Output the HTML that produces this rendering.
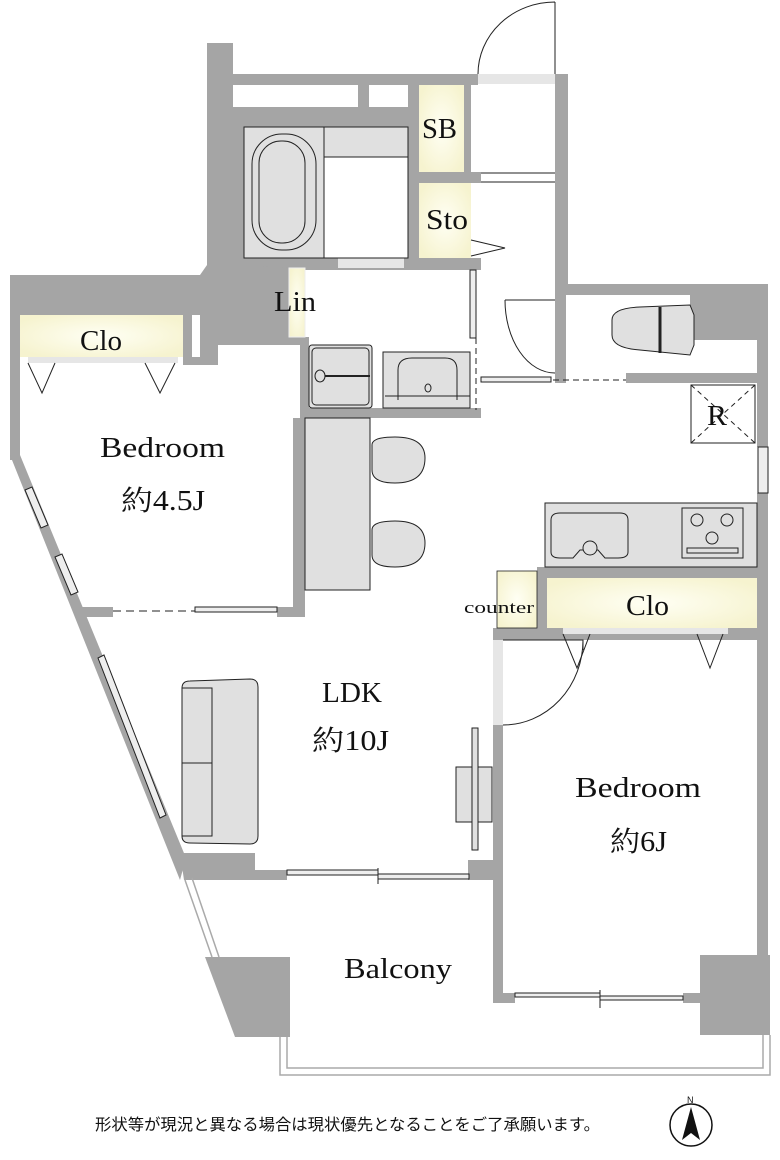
<!DOCTYPE html>
<html><head><meta charset="utf-8"><style>
html,body{margin:0;padding:0;background:#fff;}
svg{display:block;}
text{font-family:"Liberation Serif","Noto Serif CJK SC",serif;fill:#111;}
</style></head><body>
<svg width="780" height="1160" viewBox="0 0 780 1160" xmlns="http://www.w3.org/2000/svg">
<defs>
<radialGradient id="y" cx="50%" cy="50%" r="60%"><stop offset="0" stop-color="#fffff4"/><stop offset="1" stop-color="#f6f3cf"/></radialGradient>
</defs>
<g fill="#a5a5a5">
<rect x="207" y="43" width="26" height="235"/>
<rect x="233" y="74" width="245" height="11"/>
<rect x="555" y="74" width="13" height="11"/>
<rect x="233" y="107" width="186" height="20"/>
<rect x="358" y="85" width="11" height="22"/>
<rect x="408" y="85" width="11" height="22"/>
<rect x="233" y="127" width="11" height="143"/>
<rect x="408" y="127" width="11" height="143"/>
<rect x="233" y="258" width="248" height="12"/>
<rect x="419" y="172" width="62" height="11"/>
<rect x="464" y="85" width="7" height="87"/>
<polygon points="10,275 200,275 207,265 233,265 289,268 289,337 305,337 305,345 218,345 218,365 183,365 183,357 20,357 20,315 10,315"/>
<rect x="192" y="315" width="8" height="42" fill="#fff"/>
<rect x="10" y="275" width="10" height="185"/>
<polygon points="10,455 20,455 186,858 180,880"/>
<rect x="300" y="337" width="9" height="81"/>
<rect x="300" y="408" width="181" height="10"/>
<rect x="293" y="418" width="12" height="197"/>
<rect x="80" y="607" width="33" height="10"/>
<rect x="277" y="607" width="28" height="10"/>
<rect x="555" y="74" width="13" height="210"/>
<rect x="555" y="284" width="11" height="99"/>
<rect x="555" y="284" width="213" height="11"/>
<rect x="690" y="284" width="78" height="56"/>
<rect x="757" y="284" width="11" height="163"/>
<rect x="626" y="373" width="142" height="10"/>
<rect x="757" y="493" width="11" height="462"/>
<rect x="537" y="567" width="220" height="11"/>
<rect x="537" y="567" width="10" height="63"/>
<rect x="493" y="628" width="264" height="12"/>
<rect x="493" y="725" width="10" height="278"/>
<rect x="503" y="993" width="12" height="10"/>
<rect x="683" y="993" width="20" height="10"/>
<rect x="700" y="955" width="70" height="80"/>
<polygon points="180,853 255,853 255,870 287,870 287,880 184,880"/>
<rect x="468" y="860" width="32" height="20"/>
<polygon points="205,957 290,957 290,1037 235,1037"/>
</g>
<g fill="#e6e6e6">
<rect x="478" y="74" width="77" height="10"/>
<rect x="338" y="258" width="66" height="10"/>
<rect x="493" y="640" width="10" height="85"/>
<rect x="563" y="628" width="165" height="6"/>
<rect x="28" y="357" width="150" height="6"/>
</g>
<g fill="url(#y)">
<rect x="419" y="85" width="45" height="87"/>
<rect x="419" y="183" width="52" height="75"/>
<rect x="20" y="315" width="163" height="42"/>
<rect x="289" y="268" width="16" height="69" stroke="#eee"/>
<rect x="547" y="578" width="210" height="50"/>
<rect x="497" y="571" width="40" height="57" stroke="#222" stroke-width="0.8"/>
</g>
<g fill="none" stroke="#222" stroke-width="1">
<path d="M555,2 L555,74 M555,2 A77,72 0 0 0 478,74"/>
<path d="M404,195 L404,258 M404,195 A66,63 0 0 0 338,258"/>
<path d="M481,173 L555,173 M481,182 L555,182"/>
<path d="M471,240 L505,248 L471,256"/>
<rect x="470" y="270" width="6" height="68" fill="#eee"/>
<path d="M476,338 L476,410" stroke-dasharray="6,4"/>
<path d="M505,300 L555,300 M505,300 A50,73 0 0 0 555,373"/>
<rect x="481" y="377" width="70" height="5" fill="#eee"/>
<path d="M553,380 L626,380" stroke-dasharray="6,4"/>
<path d="M28,363 L42,393 L55,363 M145,363 L160,393 L175,363"/>
<path d="M563,634 L577,668 L590,634 M697,634 L710,668 L723,634"/>
<path d="M113,611 L195,611" stroke-dasharray="8,5"/>
<rect x="195" y="607" width="82" height="5" fill="#eee"/>
<path d="M503,640 L583,640 L583,650 M583,640 A80,85 0 0 1 503,725"/>
<polygon points="25,490 32,487 48,525 41,528" fill="#eee"/>
<polygon points="55,557 62,554 78,592 71,595" fill="#eee"/>
<polygon points="98,658 104,655 166,815 160,818" fill="#eee"/>
<rect x="758" y="447" width="10" height="46" fill="#eee"/>
<rect x="287" y="870" width="91" height="5" fill="#eee"/>
<rect x="378" y="874" width="91" height="5" fill="#eee"/>
<path d="M378,868 L378,884"/>
<rect x="515" y="993" width="85" height="4" fill="#eee"/>
<rect x="600" y="996" width="83" height="4" fill="#eee"/>
<path d="M600,990 L600,1008"/>
</g>
<g fill="none" stroke="#aaa" stroke-width="1.5">
<path d="M280,1037 L280,1075 L770,1075 L770,1035"/>
<path d="M287,1037 L287,1068 L763,1068 L763,1035"/>
<path d="M185,880 L212,957 M192,878 L219,957"/>
</g>
<g stroke="#222" stroke-width="1" fill="#e0e0e0">
<rect x="244" y="127" width="164" height="131" fill="#fff"/>
<rect x="244" y="127" width="80" height="131"/>
<rect x="324" y="127" width="84" height="30"/>
<rect x="252" y="134" width="64" height="116" rx="30"/>
<rect x="259" y="141" width="46" height="102" rx="22" fill="none"/>
<rect x="309" y="345" width="63" height="63" rx="3"/>
<rect x="312" y="348" width="57" height="57" rx="4" fill="none"/>
<line x1="320" y1="376" x2="370" y2="376" stroke-width="2"/>
<ellipse cx="320" cy="376" rx="5" ry="6"/>
<rect x="383" y="352" width="87" height="56"/>
<path d="M398,400 L398,370 Q398,358 412,358 L445,358 Q457,358 457,370 L457,400" fill="none"/>
<line x1="385" y1="396" x2="470" y2="396"/>
<ellipse cx="428" cy="388" rx="3" ry="4"/>
<path d="M612,320 Q612,308 640,307 L690,305 L694,315 L694,345 L690,355 L640,350 Q612,348 612,335 Z"/>
<line x1="660" y1="307" x2="660" y2="353" stroke-width="3"/>
<rect x="691" y="385" width="64" height="58" fill="#fff"/>
<path d="M691,385 L755,443 M755,385 L691,443" stroke-dasharray="5,4"/>
<rect x="305" y="418" width="65" height="172"/>
<path d="M372,445 Q372,437 395,437 Q425,437 425,458 Q425,483 395,483 Q372,483 372,470 Z"/>
<path d="M372,530 Q372,521 395,521 Q425,521 425,543 Q425,567 395,567 Q372,567 372,555 Z"/>
<rect x="545" y="503" width="212" height="64"/>
<path d="M551,552 L551,520 Q551,513 560,513 L620,513 Q628,513 628,520 L628,552 Q628,558 618,558 L605,558 L598,550 L580,550 L573,558 L560,558 Q551,558 551,552 Z"/>
<circle cx="590" cy="548" r="7"/>
<rect x="682" y="508" width="61" height="50"/>
<rect x="687" y="548" width="51" height="5"/>
<circle cx="697" cy="520" r="6"/><circle cx="727" cy="520" r="6"/><circle cx="712" cy="538" r="6"/>
<path d="M182,688 Q182,681 190,681 L250,679 Q258,679 258,687 L258,836 Q258,844 250,844 L190,843 Q182,843 182,836 Z"/>
<rect x="182" y="688" width="30" height="148"/>
<line x1="182" y1="763" x2="212" y2="763"/>
<rect x="456" y="767" width="36" height="55"/>
<rect x="472" y="728" width="6" height="122"/>
</g>
<g font-size="28">
<text x="422" y="138" textLength="35" lengthAdjust="spacingAndGlyphs">SB</text>
<text x="426" y="229" textLength="42" lengthAdjust="spacingAndGlyphs">Sto</text>
<text x="274" y="311" textLength="42" lengthAdjust="spacingAndGlyphs">Lin</text>
<text x="80" y="350" textLength="42" lengthAdjust="spacingAndGlyphs">Clo</text>
<text x="100" y="457" textLength="125" lengthAdjust="spacingAndGlyphs">Bedroom</text>
<text x="121" y="510" textLength="84" lengthAdjust="spacingAndGlyphs">約4.5J</text>
<text x="322" y="702" textLength="60" lengthAdjust="spacingAndGlyphs">LDK</text>
<text x="312" y="750" textLength="77" lengthAdjust="spacingAndGlyphs">約10J</text>
<text x="626" y="615" textLength="43" lengthAdjust="spacingAndGlyphs">Clo</text>
<text x="575" y="797" textLength="126" lengthAdjust="spacingAndGlyphs">Bedroom</text>
<text x="610" y="851" textLength="57" lengthAdjust="spacingAndGlyphs">約6J</text>
<text x="344" y="978" textLength="108" lengthAdjust="spacingAndGlyphs">Balcony</text>
<text x="707" y="425" textLength="20" lengthAdjust="spacingAndGlyphs">R</text>
<text x="464" y="613" font-size="17" textLength="70" lengthAdjust="spacingAndGlyphs">counter</text>
</g>
<text x="95" y="1130" font-size="16" textLength="505" lengthAdjust="spacingAndGlyphs" style='font-family:"Liberation Sans","Noto Sans CJK JP",sans-serif'>形状等が現況と異なる場合は現状優先となることをご了承願います。</text>
<circle cx="691" cy="1125" r="21" fill="none" stroke="#111" stroke-width="1.5"/>
<polygon points="691,1107 682,1140 691,1133 700,1140" fill="#111"/>
<text x="687" y="1103" font-size="9" style='font-family:"Liberation Sans",sans-serif'>N</text>
</svg>
</body></html>
